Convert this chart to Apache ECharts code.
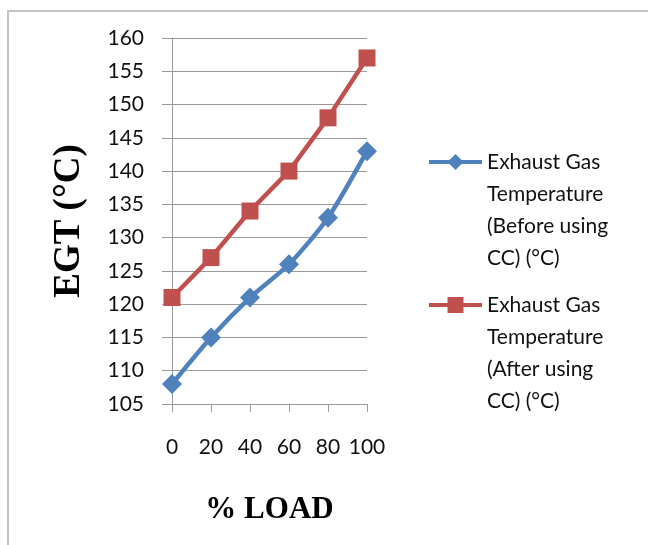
<!DOCTYPE html>
<html>
<head>
<meta charset="utf-8">
<script src="https://cdn.jsdelivr.net/npm/echarts@6/dist/echarts.min.js"></script>
<style>html,body{margin:0;padding:0;background:#fff;}#c{width:648px;height:545px;}</style>
</head>
<body>
<div id="c"></div>
<script>
const loads = ['0', '20', '40', '60', '80', '100'];
const egtBefore = [108, 115, 121, 126, 133, 143];
const egtAfter = [121, 127, 134, 140, 148, 157];
const seriesNames = [
  'Exhaust Gas\nTemperature\n(Before using\nCC) (°C)',
  'Exhaust Gas\nTemperature\n(After using\nCC) (°C)'
];
const yMin = 105, yMax = 160, yStep = 5;

const chart = echarts.init(document.getElementById('c'), null, {renderer: 'canvas'});
const tickFont = 'Lato, "Open Sans", sans-serif';
const gridGray = '#9a9a9a';
const legendText = {
  fontFamily: tickFont, fontSize: 21, color: '#111', lineHeight: 32
};
const legendCommon = {
  orient: 'vertical', left: 422, itemWidth: 53, itemHeight: 20, itemGap: 0,
  textStyle: legendText, lineStyle: {width: 4},
  formatter: function (n) { return '\n\n\n' + n; }
};
chart.setOption({
  animation: false,
  graphic: [{
    type: 'rect', silent: true,
    shape: {x: 8, y: 11, width: 700, height: 600},
    style: {fill: null, stroke: '#c4c4c4', lineWidth: 2}
  }],
  grid: {left: 172, right: 281, top: 38, bottom: 141, containLabel: false},
  legend: [
    Object.assign({data: [seriesNames[0]], top: 45}, legendCommon),
    Object.assign({data: [seriesNames[1]], top: 188}, legendCommon)
  ],
  xAxis: {
    type: 'category', data: loads, boundaryGap: false,
    name: '% LOAD', nameLocation: 'middle', nameGap: 90,
    nameTextStyle: {fontFamily: '"Liberation Serif", serif', fontWeight: 'bold', fontSize: 31, color: '#000'},
    axisLine: {show: true, lineStyle: {color: gridGray, width: 1}},
    axisTick: {show: true, alignWithLabel: true, interval: 0, length: 8, lineStyle: {color: gridGray}},
    axisLabel: {fontFamily: tickFont, fontSize: 21, color: '#111', margin: 33, interval: 0},
    splitLine: {show: false}
  },
  yAxis: {
    type: 'value', min: yMin, max: yMax, interval: yStep,
    name: 'EGT (°C)', nameLocation: 'middle', nameGap: 84, nameRotate: 90,
    nameTextStyle: {fontFamily: '"Liberation Serif", serif', fontWeight: 'bold', fontSize: 37, color: '#000'},
    axisLine: {show: true, lineStyle: {color: gridGray, width: 1}},
    axisTick: {show: true, length: 10, lineStyle: {color: gridGray}},
    axisLabel: {fontFamily: tickFont, fontSize: 21, color: '#111', margin: 28},
    splitLine: {show: true, lineStyle: {color: gridGray, width: 1}}
  },
  series: [{
    name: seriesNames[0], type: 'line', data: egtBefore, smooth: 0.25,
    symbol: 'diamond', symbolSize: 20,
    lineStyle: {color: '#4F81BD', width: 4.5},
    itemStyle: {color: '#4F81BD'}
  }, {
    name: seriesNames[1], type: 'line', data: egtAfter,
    symbol: 'rect', symbolSize: 17,
    lineStyle: {color: '#C0504D', width: 4.5},
    itemStyle: {color: '#C0504D'}
  }]
});
</script>
</body>
</html>
